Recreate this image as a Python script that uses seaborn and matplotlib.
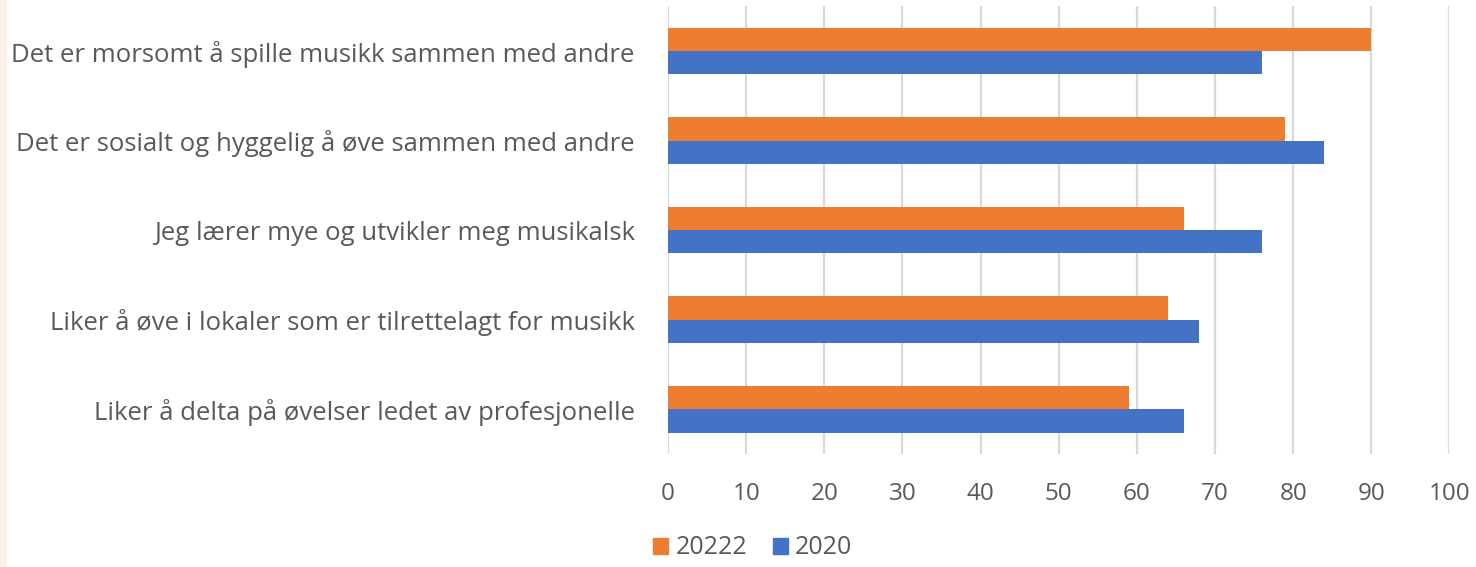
import pandas as pd
import matplotlib.pyplot as plt
import matplotlib.patches as mpatches
import seaborn as sns

# data
categories = ['Det er morsomt å spille musikk sammen med andre',
              'Det er sosialt og hyggelig å øve sammen med andre',
              'Jeg lærer mye og utvikler meg musikalsk',
              'Liker å øve i lokaler som er tilrettelagt for musikk',
              'Liker å delta på øvelser ledet av profesjonelle']
series_names = ['20222', '2020']
values_2022 = [90, 79, 66, 64, 59]
values_2020 = [76, 84, 76, 68, 66]
x_ticks = [0, 10, 20, 30, 40, 50, 60, 70, 80, 90, 100]

colors = ['#ED7D31', '#4472C4']
text_col = '#595959'

# long form table for seaborn
df = pd.DataFrame({
    'kategori': categories * 2,
    'verdi': values_2022 + values_2020,
    'aar': [series_names[0]] * len(categories) + [series_names[1]] * len(categories),
})

sns.set_theme(style='white')
plt.rcParams['font.family'] = ['Open Sans', 'DejaVu Sans']

fig = plt.figure(figsize=(14.76, 5.67), dpi=100)
ax = fig.add_axes([0.4526, 0.199, 0.5294, 0.790])

sns.barplot(data=df, y='kategori', x='verdi', hue='aar', hue_order=series_names,
            palette=colors, orient='h', width=0.52, saturation=1, ax=ax,
            legend=False, linewidth=0, zorder=3)

ax.set_xlim(0, 100)
ax.set_xticks(x_ticks)
ax.set_ylim(4.5, -0.5)
ax.grid(axis='x', color='#d9d9d9', linewidth=1.6, zorder=0)
ax.grid(axis='y', visible=False)
for s in ax.spines.values():
    s.set_visible(False)
ax.set_xlabel('')
ax.set_ylabel('')
ax.tick_params(axis='x', labelsize=17.5, labelcolor=text_col, pad=20, length=0)
ax.tick_params(axis='y', labelsize=18.5, labelcolor=text_col, pad=24, length=0)

# legend at the bottom
handles = [mpatches.Patch(color=c, label=n) for c, n in zip(colors, series_names)]
fig.legend(handles=handles, loc='lower center', bbox_to_anchor=(0.51, -0.028), ncol=2,
           frameon=False, fontsize=18, handlelength=0.6, handleheight=0.6,
           handletextpad=0.3, columnspacing=1.0, labelcolor=text_col)

# thin tinted strip on the left edge
fig.patches.append(mpatches.Rectangle((0, 0), 0.004, 1, transform=fig.transFigure,
                                      color='#fdf0e6', zorder=0))

fig.savefig('out.png', dpi=100)
